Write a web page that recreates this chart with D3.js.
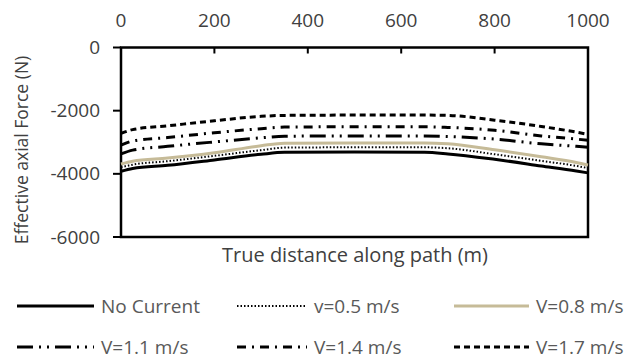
<!DOCTYPE html>
<html>
<head>
<meta charset="utf-8">
<script src="https://cdn.jsdelivr.net/npm/d3@7"></script>
<style>
  body { margin: 0; background: #fff; }
  text { font-family: "Open Sans", sans-serif; }
</style>
</head>
<body>
<div id="chart"></div>
<script>
const width = 636, height = 360;

// distance along path (m)
const distances = [0, 25, 100, 200, 300, 350, 500, 650, 700, 800, 900, 975, 1000];

// effective axial force (N) per current speed
const noCurrent = [-3920, -3830, -3730, -3560, -3380, -3320, -3310, -3320, -3370, -3540, -3750, -3910, -3970];
const v05 = [-3790, -3710, -3600, -3430, -3250, -3170, -3160, -3160, -3190, -3380, -3590, -3750, -3820];
const v08 = [-3690, -3600, -3500, -3330, -3110, -3030, -3020, -3020, -3050, -3240, -3460, -3640, -3720];
const v11 = [-3370, -3250, -3130, -2990, -2860, -2810, -2800, -2800, -2820, -2900, -3050, -3130, -3160];
const v14 = [-3090, -2960, -2850, -2700, -2570, -2520, -2510, -2510, -2530, -2620, -2800, -2900, -2940];
const v17 = [-2720, -2600, -2480, -2320, -2180, -2150, -2140, -2140, -2150, -2300, -2500, -2680, -2750];

const seriesNames = ["No Current", "v=0.5 m/s", "V=0.8 m/s", "V=1.1 m/s", "V=1.4 m/s", "V=1.7 m/s"];
const xTicks = [0, 200, 400, 600, 800, 1000];
const yTicks = [0, -2000, -4000, -6000];

const styles = [
    { values: noCurrent, color: "#000", w: 3, dash: null },
    { values: v05, color: "#000", w: 2, dash: "1.5,2" },
    { values: v08, color: "#c6bb98", w: 3, dash: null },
    { values: v11, color: "#000", w: 3, dash: "16,6,2,6,2,6" },
    { values: v14, color: "#000", w: 3, dash: "9,6,2,6" },
    { values: v17, color: "#000", w: 3, dash: "6,4" }
];

const plot = { left: 121, right: 588, top: 47.5, bottom: 237 };

const svg = d3.select("#chart").append("svg")
    .attr("width", width)
    .attr("height", height);

const x = d3.scaleLinear().domain([0, 1000]).range([plot.left, plot.right]);
const y = d3.scaleLinear().domain([-6000, 0]).range([plot.bottom, plot.top]);

// top axis (labels above, ticks inward)
svg.selectAll(".xlab")
    .data(xTicks)
    .enter().append("text")
    .attr("x", d => x(d))
    .attr("y", 27)
    .attr("text-anchor", "middle")
    .attr("font-size", 19)
    .attr("fill", "#404040")
    .text(d => d);

svg.selectAll(".xtick")
    .data(xTicks.slice(1, -1))
    .enter().append("line")
    .attr("x1", d => x(d)).attr("x2", d => x(d))
    .attr("y1", plot.top).attr("y2", plot.top + 6)
    .attr("stroke", "#000").attr("stroke-width", 2);

// left axis labels and outward ticks
svg.selectAll(".ylab")
    .data(yTicks)
    .enter().append("text")
    .attr("x", 100)
    .attr("y", d => y(d))
    .attr("dy", "0.35em")
    .attr("text-anchor", "end")
    .attr("font-size", 19)
    .attr("fill", "#404040")
    .text(d => d);

svg.selectAll(".ytick")
    .data(yTicks)
    .enter().append("line")
    .attr("x1", plot.left - 8).attr("x2", plot.left)
    .attr("y1", d => y(d)).attr("y2", d => y(d))
    .attr("stroke", "#000").attr("stroke-width", 2);

// frame
svg.append("rect")
    .attr("x", plot.left)
    .attr("y", plot.top)
    .attr("width", plot.right - plot.left)
    .attr("height", plot.bottom - plot.top)
    .attr("fill", "none")
    .attr("stroke", "#000")
    .attr("stroke-width", 2.5);

// series lines
const line = d3.line()
    .x((d, i) => x(distances[i]))
    .y(d => y(d))
    .curve(d3.curveMonotoneX);

styles.forEach(s => {
    svg.append("path")
        .attr("d", line(s.values))
        .attr("fill", "none")
        .attr("stroke", s.color)
        .attr("stroke-width", s.w)
        .attr("stroke-dasharray", s.dash);
});

// axis titles
svg.append("text")
    .attr("x", 355)
    .attr("y", 262)
    .attr("text-anchor", "middle")
    .attr("font-size", 20)
    .attr("fill", "#404040")
    .text("True distance along path (m)");

svg.append("text")
    .attr("transform", "translate(28,150) rotate(-90)")
    .attr("text-anchor", "middle")
    .attr("font-size", 17.5)
    .attr("fill", "#404040")
    .text("Effective axial Force (N)");

// legend, 3 columns x 2 rows
const colX = [17, 237, 454];
const rowY = [306, 347];
const lineLen = [77, 70, 75];

styles.forEach((s, i) => {
    const col = i % 3, row = Math.floor(i / 3);
    const lx = colX[col], ly = rowY[row];
    svg.append("line")
        .attr("x1", lx).attr("x2", lx + lineLen[col])
        .attr("y1", ly).attr("y2", ly)
        .attr("stroke", s.color)
        .attr("stroke-width", s.w)
        .attr("stroke-dasharray", s.dash);
    svg.append("text")
        .attr("x", lx + lineLen[col] + 7)
        .attr("y", ly)
        .attr("dy", "0.35em")
        .attr("font-size", 19)
        .attr("fill", "#595959")
        .text(seriesNames[i]);
});
</script>
</body>
</html>
